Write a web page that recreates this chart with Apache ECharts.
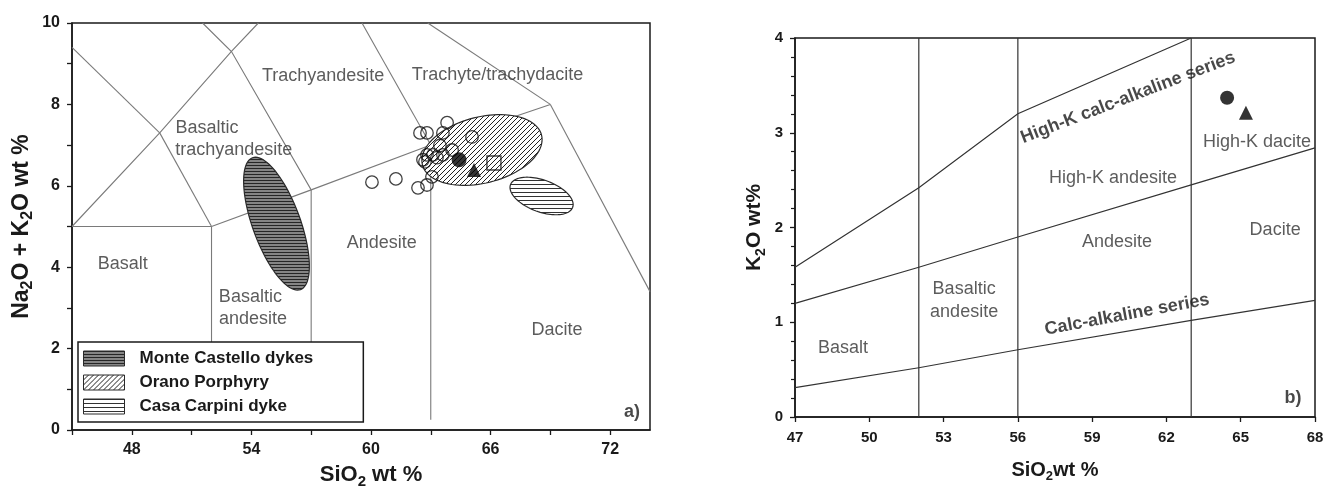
<!DOCTYPE html>
<html><head><meta charset="utf-8">
<script src="https://cdn.jsdelivr.net/npm/echarts@6/dist/echarts.min.js"></script>
<style>html,body{margin:0;padding:0;background:#fff}#c{width:1327px;height:489px}</style>
</head><body><div id="c"></div>
<script>
// ---------- data ----------
const leftXTicks = [48, 54, 60, 66, 72];
const leftYTicks = [0, 2, 4, 6, 8, 10];
const rightXTicks = [47, 50, 53, 56, 59, 62, 65, 68];
const rightYTicks = [0, 1, 2, 3, 4];

// TAS field boundaries (SiO2, Na2O+K2O)
const tasLines = [
  [[45, 5], [52, 5]],
  [[52, 1.5], [52, 5]],
  [[52, 5], [57, 5.9]],
  [[57, 1.5], [57, 5.9]],
  [[57, 5.9], [63, 7]],
  [[63, 0.25], [63, 7]],
  [[63, 7], [69, 8]],
  [[69, 8], [74, 3.4]],
  [[45, 9.4], [49.4, 7.3]],
  [[49.4, 7.3], [52, 5]],
  [[45, 5], [49.4, 7.3], [53, 9.3], [54.35, 10]],
  [[57, 5.9], [53, 9.3], [51.55, 10]],
  [[63, 7], [59.55, 10]],
  [[69, 8], [62.85, 10]]
];
const tasLabels = [
  {name: 'Trachyandesite', value: [57.6, 8.7]},
  {name: 'Trachyte/trachydacite', value: [66.35, 8.72]},
  {name: 'Basaltic', value: [51.77, 7.42]},
  {name: 'trachyandesite', value: [53.12, 6.88]},
  {name: 'Basalt', value: [47.55, 4.07]},
  {name: 'Basaltic', value: [53.95, 3.26]},
  {name: 'andesite', value: [54.08, 2.72]},
  {name: 'Andesite', value: [60.54, 4.59]},
  {name: 'Dacite', value: [69.34, 2.45]}
];
// sample fields: [centre SiO2, centre alkali, semi-major, semi-minor (SiO2 units), angle deg]
const fieldMonteCastello = [[55.26, 5.07, 3.52, 1.2, 110]];
const fieldOrano = [[65.57, 6.88, 3.08, 1.66, 14]];
const fieldCasaCarpini = [[68.56, 5.75, 1.66, 0.8, -20]];

const tasSamples = [
  [63.82, 7.55], [62.46, 7.30], [62.81, 7.30], [63.61, 7.30], [65.07, 7.20],
  [63.46, 6.99], [64.07, 6.88], [62.81, 6.76], [63.11, 6.76], [63.61, 6.76],
  [63.31, 6.69], [62.71, 6.59], [62.61, 6.64], [63.06, 6.22], [62.36, 5.95],
  [62.81, 6.02], [60.05, 6.09], [61.25, 6.17]
];
const tasCircle = [[64.42, 6.64]];
const tasTriangle = [[65.17, 6.39]];
const tasSquare = [[66.17, 6.56]];
const panelA = [{name: 'a)', value: [73.1, 0.44]}];

// K2O vs SiO2 boundaries
const kLines = [
  [[47, 1.58], [52, 2.42], [56, 3.2], [63, 4.0]],
  [[47, 1.2], [52, 1.58], [56, 1.9], [63, 2.45], [68, 2.84]],
  [[47, 0.31], [52, 0.52], [56, 0.71], [63, 1.02], [68, 1.23]],
  [[52, 0], [52, 4]],
  [[56, 0], [56, 4]],
  [[63, 0], [63, 4]]
];
const kLabels = [
  {name: 'High-K andesite', value: [59.84, 2.52]},
  {name: 'Andesite', value: [60.0, 1.85]},
  {name: 'Dacite', value: [66.39, 1.97]},
  {name: 'High-K dacite', value: [65.66, 2.9]},
  {name: 'Basaltic', value: [53.83, 1.35]},
  {name: 'andesite', value: [53.83, 1.11]},
  {name: 'Basalt', value: [48.94, 0.73]}
];
const kSeriesLabels = [
  {name: 'High-K calc-alkaline series', value: [60.45, 3.37], angle: 21},
  {name: 'Calc-alkaline series', value: [60.41, 1.08], angle: 10.5}
];
const kCircle = [[64.45, 3.37]];
const kTriangle = [[65.21, 3.21]];
const panelB = [{name: 'b)', value: [67.11, 0.2]}];

// ---------- patterns ----------
const FONT = 'Liberation Sans, Arial, sans-serif';
function makeCanvas(kind) {
  const cv = document.createElement('canvas');
  let ctx;
  if (kind === 'dense') {
    cv.width = 4; cv.height = 3; ctx = cv.getContext('2d');
    ctx.fillStyle = '#858585'; ctx.fillRect(0, 0, 4, 3);
    ctx.fillStyle = '#262626'; ctx.fillRect(0, 0, 4, 1);
  } else if (kind === 'hatch') {
    cv.width = 5; cv.height = 5; ctx = cv.getContext('2d');
    ctx.fillStyle = '#fff'; ctx.fillRect(0, 0, 5, 5);
    ctx.strokeStyle = '#222'; ctx.lineWidth = 1;
    ctx.beginPath();
    ctx.moveTo(-1, 6); ctx.lineTo(6, -1);
    ctx.moveTo(-1, 1); ctx.lineTo(1, -1);
    ctx.moveTo(4, 6); ctx.lineTo(6, 4);
    ctx.stroke();
  } else {
    cv.width = 4; cv.height = 4; ctx = cv.getContext('2d');
    ctx.fillStyle = '#fff'; ctx.fillRect(0, 0, 4, 4);
    ctx.fillStyle = '#333'; ctx.fillRect(0, 0, 4, 1);
  }
  return cv;
}
const canvases = {dense: makeCanvas('dense'), hatch: makeCanvas('hatch'), hlines: makeCanvas('hlines')};
function pat(kind) { return {image: canvases[kind], repeat: 'repeat'}; }

function ellipseSeries(name, data, kind) {
  return {
    type: 'custom', name: name, xAxisIndex: 0, yAxisIndex: 0, z: 3, silent: true,
    itemStyle: {color: pat(kind)},
    encode: {x: 0, y: 1},
    data: data,
    renderItem: function (params, api) {
      const c = api.coord([api.value(0), api.value(1)]);
      const a = api.size([api.value(2), 0])[0];
      const b = api.size([api.value(3), 0])[0];
      const th = api.value(4) * Math.PI / 180;
      const pts = [];
      const n = 96;
      for (let i = 0; i < n; i++) {
        const t = i / n * 2 * Math.PI;
        const u = a * Math.cos(t), v = b * Math.sin(t);
        pts.push([c[0] + u * Math.cos(th) - v * Math.sin(th), c[1] - (u * Math.sin(th) + v * Math.cos(th))]);
      }
      return {
        type: 'polygon',
        shape: {points: pts},
        style: {fill: pat(kind), stroke: '#2a2a2a', lineWidth: 1.2}
      };
    }
  };
}

function labelSeries(data, xi, opts) {
  return {
    type: 'scatter', xAxisIndex: xi, yAxisIndex: xi, symbolSize: 0, silent: true, z: 6,
    data: data.map(d => ({name: d.name, value: d.value, label: d.angle !== undefined ? {rotate: d.angle} : undefined})),
    label: Object.assign({show: true, position: 'inside', formatter: p => p.name,
      fontFamily: FONT, fontSize: 18, color: '#333'}, opts || {})
  };
}

const axisCommon = {
  axisLine: {show: true, lineStyle: {color: '#1a1a1a', width: 1.5}},
  axisTick: {show: true, length: 5, lineStyle: {color: '#1a1a1a', width: 1.3}},
  splitLine: {show: false}
};
const tickLabel = {fontFamily: FONT, fontSize: 16, fontWeight: 'bold', color: '#1a1a1a'};
function richName(big, small, padding) {
  return {
    color: '#1a1a1a',
    padding: padding || 0,
    rich: {
      a: {fontFamily: FONT, fontSize: big, fontWeight: 'bold', lineHeight: big + 6, color: '#1a1a1a'},
      s: {fontFamily: FONT, fontSize: small, fontWeight: 'bold', verticalAlign: 'bottom', color: '#1a1a1a'}
    }
  };
}

const option = {
  backgroundColor: '#fff',
  animation: false,
  grid: [
    {left: 72, top: 23, width: 578, height: 407, show: true, borderColor: '#1a1a1a', borderWidth: 1.5, outerBoundsMode: 'none'},
    {left: 795, top: 38, width: 520, height: 379, show: true, borderColor: '#1a1a1a', borderWidth: 1.5, outerBoundsMode: 'none'}
  ],
  xAxis: [
    Object.assign({}, axisCommon, {
      gridIndex: 0, type: 'value', min: 45, max: 74, interval: 3,
      axisLabel: Object.assign({margin: 12, showMaxLabel: false, formatter: v => leftXTicks.includes(v) ? String(v) : ''}, tickLabel),
      name: '{a|SiO}{s|2}{a| wt %}', nameLocation: 'middle', nameGap: 31, nameTextStyle: richName(22, 15, [0, 0, 0, 20])
    }),
    Object.assign({}, axisCommon, {
      gridIndex: 1, type: 'value', min: 47, max: 68, interval: 3,
      axisLabel: Object.assign({margin: 13, formatter: v => rightXTicks.includes(v) ? String(v) : ''}, tickLabel, {fontSize: 15}),
      name: '{a|SiO}{s|2}{a|wt %}', nameLocation: 'middle', nameGap: 40, nameTextStyle: richName(20, 13)
    })
  ],
  yAxis: [
    Object.assign({}, axisCommon, {
      gridIndex: 0, type: 'value', min: 0, max: 10, interval: 1,
      axisLabel: Object.assign({margin: 12, formatter: v => leftYTicks.includes(v) ? String(v) : ''}, tickLabel),
      name: '{a|Na}{s|2}{a|O + K}{s|2}{a|O wt %}', nameLocation: 'middle', nameGap: 36, nameTextStyle: richName(23, 16)
    }),
    Object.assign({}, axisCommon, {
      gridIndex: 1, type: 'value', min: 0, max: 4, interval: 1,
      minorTick: {show: true, splitNumber: 5, length: 4, lineStyle: {color: '#1a1a1a', width: 1.2}},
      axisLabel: Object.assign({margin: 12, formatter: v => rightYTicks.includes(v) ? String(v) : ''}, tickLabel, {fontSize: 15}),
      name: '{a|K}{s|2}{a|O wt%}', nameLocation: 'middle', nameGap: 27, nameTextStyle: richName(21, 14)
    })
  ],
  legend: {
    left: 78, top: 342, orient: 'vertical', selectedMode: false,
    itemWidth: 41, itemHeight: 15, itemGap: 7,
    padding: [8, 50, 7, 5],
    backgroundColor: '#fff', borderColor: '#1a1a1a', borderWidth: 1.5,
    textStyle: {fontFamily: FONT, fontSize: 17, fontWeight: 'bold', color: '#1a1a1a', padding: [0, 0, 0, 10]},
    data: [
      {name: 'Monte Castello dykes', icon: 'rect', itemStyle: {color: pat('dense'), borderColor: '#2a2a2a', borderWidth: 1}},
      {name: 'Orano Porphyry', icon: 'rect', itemStyle: {color: pat('hatch'), borderColor: '#2a2a2a', borderWidth: 1}},
      {name: 'Casa Carpini dyke', icon: 'rect', itemStyle: {color: pat('hlines'), borderColor: '#2a2a2a', borderWidth: 1}}
    ]
  },
  series: [
    {type: 'lines', coordinateSystem: 'cartesian2d', xAxisIndex: 0, yAxisIndex: 0, polyline: true, silent: true, z: 2,
      lineStyle: {color: '#7a7a7a', width: 1.1, opacity: 1}, data: tasLines.map(c => ({coords: c}))},
    ellipseSeries('Monte Castello dykes', fieldMonteCastello, 'dense'),
    ellipseSeries('Orano Porphyry', fieldOrano, 'hatch'),
    ellipseSeries('Casa Carpini dyke', fieldCasaCarpini, 'hlines'),
    {type: 'scatter', xAxisIndex: 0, yAxisIndex: 0, z: 4, silent: true, symbol: 'circle', symbolSize: 12.5,
      itemStyle: {color: 'rgba(255,255,255,0)', borderColor: '#111', borderWidth: 1.3}, data: tasSamples},
    {type: 'scatter', xAxisIndex: 0, yAxisIndex: 0, z: 5, silent: true, symbol: 'circle', symbolSize: 15,
      itemStyle: {color: '#000'}, data: tasCircle},
    {type: 'scatter', xAxisIndex: 0, yAxisIndex: 0, z: 5, silent: true, symbol: 'triangle', symbolSize: 14,
      itemStyle: {color: '#000'}, data: tasTriangle},
    {type: 'scatter', xAxisIndex: 0, yAxisIndex: 0, z: 5, silent: true, symbol: 'rect', symbolSize: 14,
      itemStyle: {color: 'rgba(255,255,255,0)', borderColor: '#111', borderWidth: 1.4}, data: tasSquare},
    labelSeries(tasLabels, 0),
    labelSeries(panelA, 0, {fontWeight: 'bold', color: '#1a1a1a'}),

    {type: 'lines', coordinateSystem: 'cartesian2d', xAxisIndex: 1, yAxisIndex: 1, polyline: true, silent: true, z: 2,
      lineStyle: {color: '#333', width: 1.2, opacity: 1}, data: kLines.map(c => ({coords: c}))},
    {type: 'scatter', xAxisIndex: 1, yAxisIndex: 1, z: 5, silent: true, symbol: 'circle', symbolSize: 14,
      itemStyle: {color: '#000'}, data: kCircle},
    {type: 'scatter', xAxisIndex: 1, yAxisIndex: 1, z: 5, silent: true, symbol: 'triangle', symbolSize: 14,
      itemStyle: {color: '#000'}, data: kTriangle},
    labelSeries(kLabels, 1),
    labelSeries(kSeriesLabels, 1, {fontWeight: 'bold', color: '#1a1a1a'}),
    labelSeries(panelB, 1, {fontWeight: 'bold', color: '#1a1a1a'})
  ]
};
const chart = echarts.init(document.getElementById('c'), null, {renderer: 'canvas'});
chart.setOption(option);
</script></body></html>
